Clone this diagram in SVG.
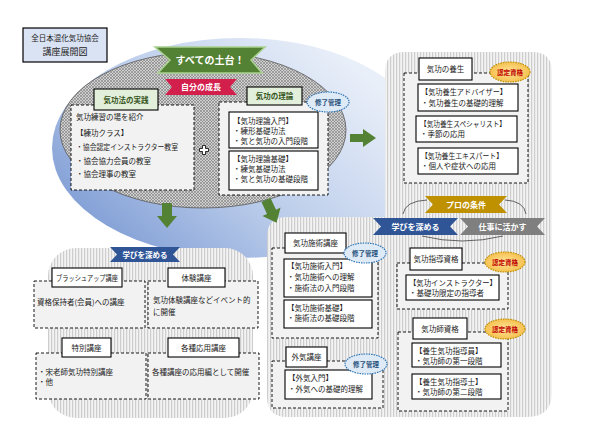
<svg xmlns="http://www.w3.org/2000/svg" width="597" height="447" viewBox="0 0 597 447">
<defs>
<linearGradient id="blueg" x1="0" y1="0.75" x2="0.85" y2="0.2">
<stop offset="0" stop-color="#7e9cd4"/>
<stop offset="0.45" stop-color="#b9cbea"/>
<stop offset="1" stop-color="#e9eff9"/>
</linearGradient>
<pattern id="hx" width="3" height="3" patternUnits="userSpaceOnUse">
<rect width="3" height="3" fill="#d0d0d0"/>
<path d="M0,0 L3,3 M3,0 L0,3" stroke="#7a7a7a" stroke-width="0.6"/>
</pattern>
<pattern id="vs" width="3" height="3" patternUnits="userSpaceOnUse">
<rect width="3" height="3" fill="#f3f3f3"/>
<rect width="1.2" height="3" fill="#cdcdcd"/>
</pattern>
<radialGradient id="goldg" cx="0.5" cy="0.5" r="0.6">
<stop offset="0" stop-color="#ffe699"/>
<stop offset="1" stop-color="#f4b942"/>
</radialGradient>
</defs>
<style>
text{font-family:"Noto Sans CJK JP","Noto Sans CJK SC",sans-serif;fill:#222;font-size:7.5px}
.lbl{text-anchor:middle}
.box{fill:#fff;stroke:#000;stroke-width:1.1}
.gbox{fill:#e2efda;stroke:#000;stroke-width:1.1}
.gtxt{fill:#375623;font-weight:bold;text-anchor:middle;font-size:7.5px}
.dash{fill:#f2f2f2;stroke:#000;stroke-width:0.9;stroke-dasharray:3 2}
.ban{stroke:none}
.bt{fill:#fff;font-weight:bold;text-anchor:middle;font-size:8px}
.bb{fill:#deebf7;stroke:#2e75b6;stroke-width:1.2;stroke-dasharray:1.5 1}
.bbt{fill:#1f4e79;font-weight:bold;text-anchor:middle;font-size:6.5px}
.gb{fill:url(#goldg);stroke:#bf9000;stroke-width:1.2;stroke-dasharray:1.5 1}
.gbt{fill:#c00000;font-weight:bold;text-anchor:middle;font-size:6.5px}
.arr{fill:#548235}
.arc{fill:none;stroke:#404040;stroke-width:0.8}
</style>

<!-- background shapes -->
<ellipse cx="240" cy="148" rx="188" ry="110" fill="url(#blueg)"/>
<ellipse cx="203" cy="130" rx="143" ry="78" fill="url(#hx)" stroke="#595959" stroke-width="0.8"/>
<path d="M405,52 H532 Q552,52 552,72 V392 Q552,417 527,417 H287 Q267,417 267,397 V237 Q267,217 287,217 H385 V72 Q385,52 405,52 Z" fill="url(#vs)"/>
<rect x="48" y="248" width="205" height="170" rx="28" fill="url(#vs)"/>

<!-- title -->
<g id="title">
<rect x="23" y="28" width="84" height="34" fill="#dae3f3" stroke="#000" stroke-width="1.2"/>
<text x="65" y="41" class="lbl" font-size="7">全日本混化気功協会</text>
<text x="65" y="55" class="lbl" style="font-size:9px">講座展開図</text>
</g>

<!-- connectors -->
<g id="connectors">
<path class="arr" d="M350,134 H363 V129 L376,138 L363,147 V142 H350 Z"/>
<path class="arr" d="M162,203 H172 V216 H177 L167,228 L157,216 H162 Z"/>
<path class="arr" transform="translate(266,200) rotate(-25)" d="M-5,0 H5 V13 H10 L0,25 L-10,13 H-5 Z"/>
<path class="arc" d="M403,214 Q405,201 427,200"/>
<path class="arc" d="M505,200 Q524,201 526,214"/>
<path class="arc" d="M422,236 Q462,246 503,236"/>
</g>

<!-- banners -->
<g id="banner-foundation">
<path d="M155,47 H265 L251,60 L262,73 H158 L170,60 Z" fill="#548235" stroke="#a9d18e" stroke-width="1.5"/>
<text x="210" y="64" class="bt" style="font-size:10px">すべての土台！</text>
</g>
<g id="banner-growth">
<path class="ban" d="M165,79 H237 L230,87 L237,95 H165 L172,87 Z" fill="#d21f4b"/>
<text x="201" y="90" class="bt">自分の成長</text>
</g>

<!-- practice -->
<g id="practice">
<rect x="71" y="105" width="123" height="85" class="dash"/>
<rect x="94" y="89" width="64" height="21" class="gbox"/>
<text x="126" y="102.5" class="gtxt">気功法の実践</text>
<text x="76" y="120">気功練習の場を紹介</text>
<text x="76" y="136">【練功クラス】</text>
<text x="76" y="150" textLength="102" lengthAdjust="spacingAndGlyphs">・協会認定インストラクター教室</text>
<text x="76" y="164">・協会協力会員の教室</text>
<text x="76" y="177">・協会理事の教室</text>
</g>

<path d="M202.5,145.5 h3 v3 h3 v3 h-3 v3 h-3 v-3 h-3 v-3 h3 z" fill="#fff" stroke="#000" stroke-width="0.8"/>

<!-- theory -->
<g id="theory">
<rect x="219" y="102" width="109" height="93" class="dash"/>
<rect x="247" y="87" width="55" height="18" class="gbox"/>
<text x="274.5" y="99" class="gtxt">気功の理論</text>
<rect x="229" y="112" width="89" height="36" class="box"/>
<text x="233" y="124">【気功理論入門】</text>
<text x="233" y="134">・練形基礎功法</text>
<text x="233" y="144">・気と気功の入門段階</text>
<rect x="229" y="151" width="89" height="39" class="box"/>
<text x="233" y="162">【気功理論基礎】</text>
<text x="233" y="172">・練気基礎功法</text>
<text x="233" y="182">・気と気功の基礎段階</text>
<ellipse cx="328" cy="102" rx="21" ry="10" class="bb"/>
<text x="328" y="104.5" class="bbt">修了管理</text>
</g>

<!-- health -->
<g id="health">
<rect x="404" y="73" width="124" height="110" class="dash"/>
<rect x="419" y="58" width="53" height="22" class="box"/>
<text x="445.5" y="72" class="lbl">気功の養生</text>
<rect x="418" y="84" width="100" height="27" class="box"/>
<text x="421" y="95" textLength="86" lengthAdjust="spacingAndGlyphs">【気功養生アドバイザー】</text>
<text x="421" y="105.5">・気功養生の基礎的理解</text>
<rect x="416" y="116" width="101" height="26" class="box"/>
<text x="420" y="126.5" textLength="86" lengthAdjust="spacingAndGlyphs">【気功養生スペシャリスト】</text>
<text x="420" y="137">・季節の応用</text>
<rect x="418" y="148" width="100" height="26" class="box"/>
<text x="421" y="158.5" textLength="82" lengthAdjust="spacingAndGlyphs">【気功養生エキスパート】</text>
<text x="421" y="169">・個人や症状への応用</text>
<ellipse cx="510" cy="72" rx="20" ry="10" class="gb"/>
<text x="510" y="74.5" class="gbt">認定資格</text>
</g>

<!-- pro banners -->
<g id="banner-pro">
<path class="ban" d="M425,196 H507 L499,204.5 L507,213 H425 L433,204.5 Z" fill="#bf9000"/>
<text x="466" y="208" class="bt">プロの条件</text>
</g>
<g id="banner-deepen">
<path class="ban" d="M373,218 H458 L450,226.5 L458,235 H373 L381,226.5 Z" fill="#2f5597"/>
<text x="415.5" y="230" class="bt">学びを深める</text>
</g>
<g id="banner-work">
<path class="ban" d="M460,218 H545 L537,226.5 L545,235 H460 L468,226.5 Z" fill="#7f7f7f"/>
<text x="502.5" y="230" class="bt">仕事に活かす</text>
</g>

<!-- treatment -->
<g id="treatment">
<rect x="272" y="248" width="106" height="90" class="dash"/>
<rect x="285" y="233" width="61" height="20" class="box"/>
<text x="315.5" y="246" class="lbl">気功施術講座</text>
<rect x="284" y="259" width="88" height="38" class="box"/>
<text x="287" y="269">【気功施術入門】</text>
<text x="287" y="280">・気功施術への理解</text>
<text x="287" y="291">・施術法の入門段階</text>
<rect x="284" y="300" width="88" height="28" class="box"/>
<text x="287" y="311">【気功施術基礎】</text>
<text x="287" y="321">・施術法の基礎段階</text>
<ellipse cx="365" cy="253" rx="21" ry="10" class="bb"/>
<text x="365" y="255.5" class="bbt">修了管理</text>
</g>

<!-- external qi -->
<g id="external">
<rect x="272" y="361" width="111" height="47" class="dash"/>
<rect x="286" y="347" width="41" height="20" class="box"/>
<text x="306.5" y="360" class="lbl">外気講座</text>
<rect x="285" y="370" width="87" height="29" class="box"/>
<text x="288" y="381">【外気入門】</text>
<text x="288" y="392">・外気への基礎的理解</text>
<ellipse cx="366" cy="364" rx="21" ry="10" class="bb"/>
<text x="366" y="366.5" class="bbt">修了管理</text>
</g>

<!-- instructor -->
<g id="instructor">
<rect x="397" y="263" width="111" height="46" class="dash"/>
<rect x="410" y="248" width="52" height="22" class="box"/>
<text x="436" y="262" class="lbl">気功指導資格</text>
<rect x="406" y="275" width="93" height="25" class="box"/>
<text x="409" y="286" textLength="88" lengthAdjust="spacingAndGlyphs">【気功インストラクター】</text>
<text x="409" y="296">・基礎功限定の指導者</text>
<ellipse cx="505" cy="262" rx="20" ry="10" class="gb"/>
<text x="505" y="264.5" class="gbt">認定資格</text>
</g>

<!-- master -->
<g id="master">
<rect x="398" y="332" width="110" height="79" class="dash"/>
<rect x="413" y="318" width="54" height="21" class="box"/>
<text x="440" y="331.5" class="lbl">気功師資格</text>
<rect x="412" y="343" width="89" height="24" class="box"/>
<text x="415" y="354">【養生気功指導員】</text>
<text x="415" y="364">・気功師の第一段階</text>
<rect x="412" y="374" width="89" height="25" class="box"/>
<text x="415" y="385">【養生気功指導士】</text>
<text x="415" y="395">・気功師の第二段階</text>
<ellipse cx="505" cy="329" rx="20" ry="10" class="gb"/>
<text x="505" y="331.5" class="gbt">認定資格</text>
</g>

<!-- lower left -->
<g id="banner-deepen2">
<path class="ban" d="M110,247 H180 L173,254.5 L180,262 H110 L117,254.5 Z" fill="#2f5597"/>
<text x="145" y="257.5" class="bt" style="font-size:7.5px">学びを深める</text>
</g>
<g id="brushup">
<rect x="34" y="281" width="111" height="47" class="dash"/>
<rect x="52" y="268" width="70" height="19" class="box"/>
<text x="87" y="280.5" class="lbl" textLength="62" lengthAdjust="spacingAndGlyphs">ブラッシュアップ講座</text>
<text x="37" y="305">資格保持者(会員)への講座</text>
</g>
<g id="trial">
<rect x="148" y="281" width="110" height="47" class="dash"/>
<rect x="168" y="268" width="57" height="19" class="box"/>
<text x="196.5" y="280.5" class="lbl">体験講座</text>
<text x="153" y="303">気功体験講座などイベント的</text>
<text x="153" y="315">に開催</text>
</g>
<g id="special">
<rect x="36" y="353" width="110" height="46" class="dash"/>
<rect x="62" y="338" width="49" height="19" class="box"/>
<text x="86.5" y="350.5" class="lbl">特別講座</text>
<text x="38" y="375">・宋老師気功特別講座</text>
<text x="38" y="385">・他</text>
</g>
<g id="applied">
<rect x="148" y="353" width="111" height="46" class="dash"/>
<rect x="168" y="338" width="71" height="19" class="box"/>
<text x="203.5" y="350.5" class="lbl">各種応用講座</text>
<text x="152" y="375">各種講座の応用編として開催</text>
</g>
</svg>
